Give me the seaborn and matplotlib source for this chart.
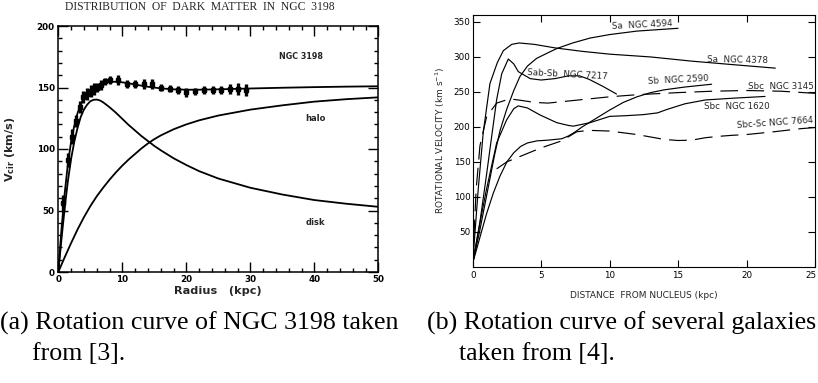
import matplotlib
matplotlib.use("Agg")
import matplotlib.pyplot as plt
from matplotlib.ticker import MultipleLocator
from matplotlib.transforms import ScaledTranslation
import numpy as np
import pandas as pd
import seaborn as sns

# ---------------- data: panel (a) NGC 3198 ----------------
obs_r = [0.8, 1.56, 2.1, 2.8, 3.4, 3.9, 4.5, 5.05, 5.6, 6.1, 6.6, 7.3, 8.1, 9.4, 10.7, 12.0,
         13.4, 14.7, 16.0, 17.4, 18.75, 20.0, 21.4, 22.8, 24.1, 25.4, 26.8, 28.1, 29.4]
obs_v = [56, 91, 110, 123, 134, 142, 145, 147, 149, 150, 152, 155, 156, 156, 153, 153,
         153, 153, 150, 149, 148, 146, 147, 148, 148, 148, 149, 149, 148]
obs_err = [7, 6, 6, 5, 5, 5, 5, 5, 5, 4, 4, 3, 3, 4, 3, 3,
           4, 4, 3, 3, 3, 4, 3, 3, 3, 3, 4, 5, 5]

total_r = [0, 0.5, 1, 1.5, 2, 2.5, 3, 3.5, 4, 4.5, 5, 6, 7, 8, 9, 10, 11, 12, 14, 16, 18, 20,
           22, 25, 30, 35, 40, 45, 50]
total_v = [0, 35, 64, 88, 106, 119, 129, 136.5, 141.5, 145, 147.5, 151, 153.3, 154.5, 154.7,
           154.2, 153.4, 152.4, 150.6, 149.3, 148.5, 148.2, 148.2, 148.5, 149.2, 149.8, 150.3,
           150.7, 151]

disk_r = [0, 0.5, 1, 1.5, 2, 2.5, 3, 3.5, 4, 4.5, 5, 5.5, 6, 6.5, 7, 8, 9, 10, 11, 12, 13, 14,
          15, 16, 18, 20, 22, 25, 30, 35, 40, 45, 50]
disk_v = [0, 27, 52, 74, 92, 106, 117, 126, 132, 136, 138.8, 140, 140.2, 139.5, 138, 134,
          129.5, 124.5, 119.5, 115, 110.5, 106.5, 102.5, 99, 92.5, 87, 82, 76, 68.5, 63, 58.5,
          55.5, 53]

halo_r = [0, 1, 2, 3, 4, 5, 6, 7, 8, 9, 10, 11, 12, 13, 14, 15, 16, 18, 20, 22, 25, 30, 35,
          40, 45, 50]
halo_v = [0, 12, 23.5, 34.5, 44.5, 53.5, 61.5, 68.5, 75, 81, 86.5, 91.5, 96, 100.5, 104.5,
          108, 111, 116, 120, 123.3, 127.2, 132, 135.5, 138.5, 140.5, 142]

# ---------------- data: panel (b) several galaxies ----------------
n4378_r = [0, 0.4, 0.77, 1.26, 1.8, 2.24, 2.85, 3.4, 4.5, 6, 8, 10, 13, 16, 19, 22.1]
n4378_v = [5, 110, 192, 262, 292, 309, 318, 320, 318, 313, 308, 304, 300, 294, 289, 284]

n4594_r = [0, 0.5, 1.0, 1.6, 2.0, 2.48, 3.0, 3.45, 4.0, 4.67, 5.5, 6.14, 7.3, 8.57, 10, 12, 15]
n4594_v = [5, 50, 100, 160, 195, 225, 252, 272, 287, 298, 306, 312, 320, 327, 332, 337, 341]

n7217_r = [0, 0.5, 1.0, 1.26, 1.75, 2.12, 2.6, 3.0, 3.33, 4.2, 5.0, 6.0, 7.0, 7.8, 8.5, 9.5, 10.5]
n7217_v = [5, 60, 130, 168, 239, 276, 297, 290, 279, 269, 267, 269, 273, 273, 268, 258, 247]

n3145_r = [0, 0.25, 0.53, 1.02, 1.75, 2.7, 3.5, 4.5, 5.5, 7, 8.5, 10, 12, 15, 17.5, 20, 22.5, 25]
n3145_v = [5, 110, 173, 215, 234, 240, 238, 235, 234, 237, 240, 243, 246, 249, 251, 252, 251, 248]

n2590_r = [0, 0.5, 1.0, 1.5, 2.0, 2.5, 3.0, 3.5, 4.0, 4.7, 5.5, 6.5, 7.0, 7.5, 8.0, 9.0, 10.0,
           11.0, 12.0, 13.0, 14.0, 15.5, 17.45]
n2590_v = [5, 40, 75, 105, 130, 150, 163, 172, 177, 180, 181, 183, 187, 193, 200, 212, 224,
           235, 243, 249, 253, 257, 261]

n1620_r = [0, 0.5, 1.0, 1.75, 2.48, 3.0, 3.33, 4.0, 4.92, 6.14, 7.0, 7.35, 8.57, 10, 11.2,
           12.46, 13.5, 14.2, 15.5, 17, 19, 21.35]
n1620_v = [5, 60, 110, 177, 210, 226, 230, 227, 217, 206, 202, 201, 206, 215, 216,
           217.5, 220, 225, 233, 238.5, 241, 243.5]

n7664_r = [1.75, 2.5, 3.5, 5, 6.5, 7.6, 8.5, 10, 12, 14, 15, 16, 17, 18, 19, 20, 22, 24, 25]
n7664_v = [140, 150, 158, 170, 180, 193, 195, 194, 189, 182, 180.5, 181, 184.5, 186.5, 188,
           189, 193, 197.5, 199]

galaxy_names = ["NGC 4378", "NGC 4594", "NGC 7217", "NGC 3145", "NGC 2590", "NGC 1620", "NGC 7664"]
galaxy_r = [n4378_r, n4594_r, n7217_r, n3145_r, n2590_r, n1620_r, n7664_r]
galaxy_v = [n4378_v, n4594_v, n7217_v, n3145_v, n2590_v, n1620_v, n7664_v]
dashed_galaxies = ["NGC 3145", "NGC 7664"]

# labels in panel (b)
b_labels = ["Sa  NGC 4594", "Sa  NGC 4378", "Sab-Sb  NGC 7217", "Sb  NGC 2590",
            "Sbc  NGC 3145", "Sbc  NGC 1620", "Sbc-Sc NGC 7664"]
b_label_x = [10.2, 17.1, 3.95, 12.8, 20.1, 16.9, 19.3]
b_label_y = [343, 296, 278, 265, 258, 229, 202]
b_label_rot = [3, -1, -3, 3, 0, 0, 4]

# ---------------- figure ----------------
W, H = 818, 383
sns.set_theme(style="ticks")
plt.rcParams["font.family"] = ["DejaVu Sans"]
fig = plt.figure(figsize=(W / 100, H / 100), dpi=100)
fig.patch.set_facecolor("white")


def px_axes(x0, y0, x1, y1):
    return fig.add_axes([x0 / W, 1 - y1 / H, (x1 - x0) / W, (y1 - y0) / H])


# ---- panel (a) ----
ax1 = px_axes(58.3, 26, 378.3, 272)
ax1.set_facecolor("white")
dfa = pd.concat([
    pd.DataFrame({"r": total_r, "v": total_v, "comp": "total"}),
    pd.DataFrame({"r": disk_r, "v": disk_v, "comp": "disk"}),
    pd.DataFrame({"r": halo_r, "v": halo_v, "comp": "halo"}),
])
sns.lineplot(data=dfa, x="r", y="v", hue="comp", palette=["black"] * 3, estimator=None,
             sort=False, legend=False, linewidth=1.3, ax=ax1)
ax1.errorbar(obs_r, obs_v, yerr=obs_err, fmt="s", color="black", markersize=2.2,
             elinewidth=2.4, capsize=0, zorder=5)
ax1.set_xlim(0, 50)
ax1.set_ylim(0, 200)
ax1.set_xticks(range(0, 51, 10))
ax1.set_yticks(range(0, 201, 50))
ax1.xaxis.set_minor_locator(MultipleLocator(2))
ax1.yaxis.set_minor_locator(MultipleLocator(10))
ax1.tick_params(which="both", direction="in", top=True, right=True, width=1.0,
                colors="black", labelsize=6.3, pad=2.5)
ax1.tick_params(which="major", length=7)
ax1.tick_params(which="minor", length=3)
for lab in ax1.get_xticklabels() + ax1.get_yticklabels():
    lab.set_fontweight("bold")
for sp in ax1.spines.values():
    sp.set_visible(True)
    sp.set_linewidth(1.1)
    sp.set_color("black")
ax1.set_xlabel("Radius   (kpc)", fontsize=8.1, fontweight="bold", labelpad=1)
ax1.set_ylabel(r"V$_{\mathbf{cir}}$ (km/s)", fontsize=8.1, fontweight="bold", labelpad=14)
ax1.text(37.9, 175, "NGC 3198", fontsize=5.8, fontweight="bold", ha="center", va="center")
ax1.text(40.1, 125, "halo", fontsize=6, fontweight="bold", ha="center", va="center")
ax1.text(40.1, 40, "disk", fontsize=6, fontweight="bold", ha="center", va="center")

fig.text(200 / W, 1 - 7 / H, "DISTRIBUTION  OF  DARK  MATTER  IN  NGC  3198",
         family="Liberation Serif", fontsize=8.4, ha="center", va="center")

# ---- panel (b) ----
ax2 = px_axes(472.7, 15, 815, 266.7)
ax2.set_facecolor("white")
dfb = pd.concat([pd.DataFrame({"r": r, "v": v, "galaxy": n})
                 for n, r, v in zip(galaxy_names, galaxy_r, galaxy_v)])
dash_map = {n: ((15, 7) if n in dashed_galaxies else "") for n in galaxy_names}
sns.lineplot(data=dfb, x="r", y="v", hue="galaxy", style="galaxy",
             palette=["black"] * len(galaxy_names), dashes=dash_map, estimator=None,
             sort=False, legend=False, linewidth=0.85, ax=ax2)
ax2.set_xlim(0, 25)
ax2.set_ylim(0, 360)
ax2.set_xticks(range(0, 26, 5))
ax2.set_yticks(range(50, 351, 50))
ax2.tick_params(which="major", direction="in", top=True, right=True, length=5, width=0.8,
                colors="black", labelsize=6.3)
ax2.tick_params(axis="x", pad=3)
ax2.tick_params(axis="y", pad=1.5)
for sp in ax2.spines.values():
    sp.set_visible(True)
    sp.set_linewidth(0.8)
    sp.set_color("black")
ax2.set_xlabel("DISTANCE  FROM NUCLEUS (kpc)", fontsize=6.5, labelpad=8)
ax2.set_ylabel(r"ROTATIONAL VELOCITY (km s$^{-1}$)", fontsize=6.5, labelpad=5)
fig.canvas.draw()
last = ax2.get_xticklabels()[-1]
last.set_transform(last.get_transform() + ScaledTranslation(-4 / 100, 0, fig.dpi_scale_trans))
for t, x, y, rot in zip(b_labels, b_label_x, b_label_y, b_label_rot):
    ax2.text(x, y, t, fontsize=6.3, ha="left", va="center", rotation=rot,
             rotation_mode="anchor")

# ---- captions ----
cap_kw = dict(family="Liberation Serif", fontsize=18.6, ha="left", va="baseline", color="black")
fig.text(0.5 / W, 1 - 330 / H, "(a) Rotation curve of NGC 3198 taken", **cap_kw)
fig.text(32 / W, 1 - 360 / H, "from [3].", **cap_kw)
fig.text(426.7 / W, 1 - 330 / H, "(b) Rotation curve of several galaxies", **cap_kw)
fig.text(459 / W, 1 - 360 / H, "taken from [4].", **cap_kw)

fig.savefig("out.png", dpi=100, facecolor="white")
